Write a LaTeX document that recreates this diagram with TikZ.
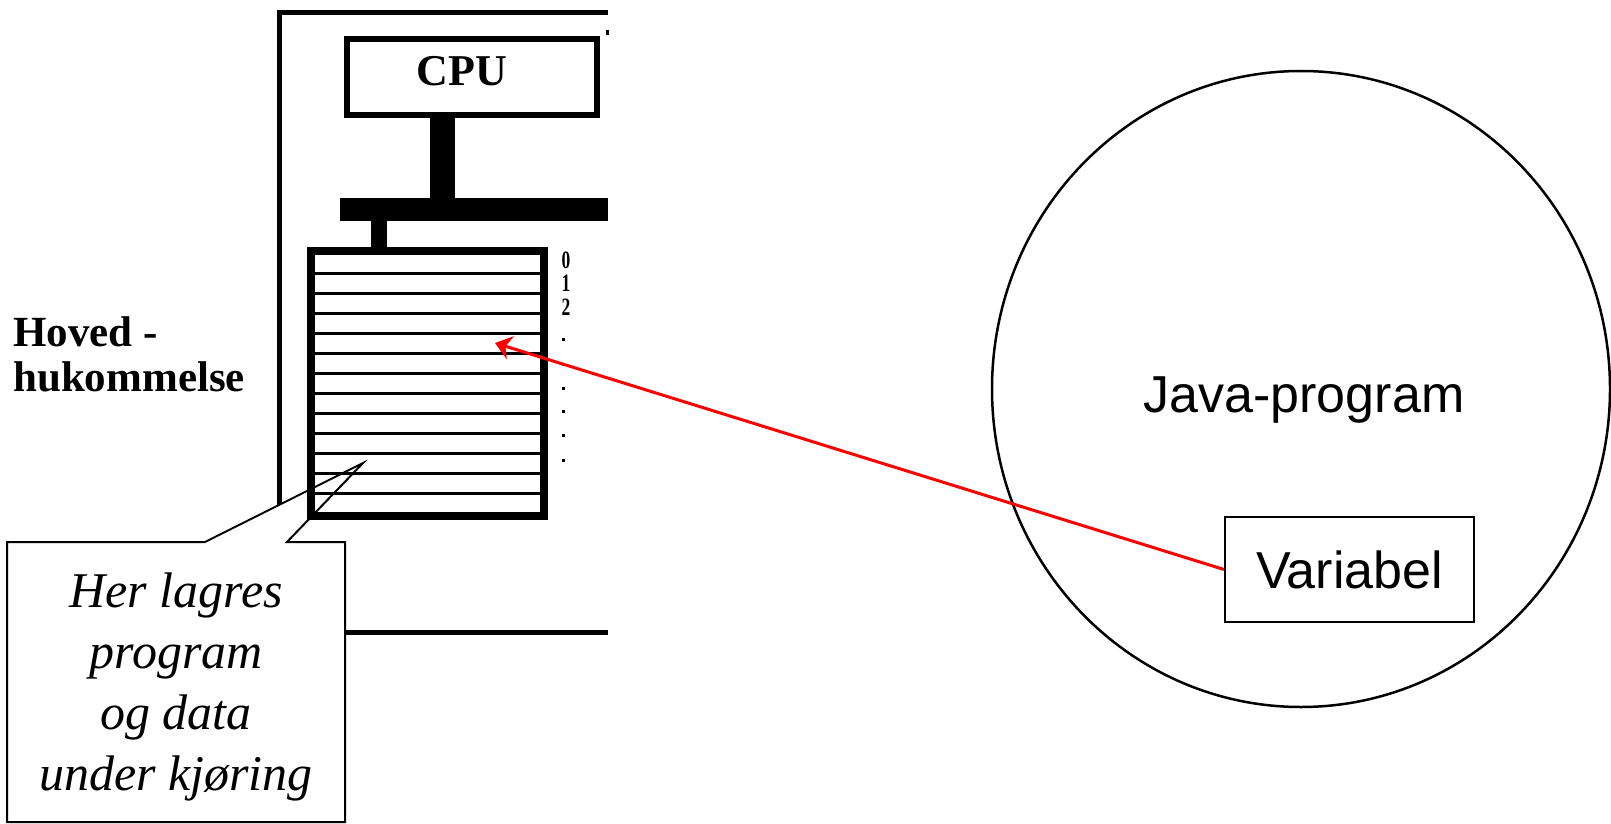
\documentclass[tikz,border=0pt]{standalone}
\usepackage{fontspec}
\setmainfont{Liberation Serif}
\setsansfont{Liberation Sans}
\usetikzlibrary{shapes.geometric,arrows.meta,positioning}

\begin{document}
\begin{tikzpicture}[x=1pt,y=-1pt]
			\tikzstyle{Box}		= [rectangle, draw, inner sep=0pt]
			\tikzstyle{CPUBox}	= [Box, line width=6pt, minimum width=250pt, minimum height=76pt]
			\tikzstyle{Memory}	= [Box, line width=8pt, minimum width=233pt, minimum height=265pt]
			\tikzstyle{Bus}		= [rectangle, fill=black, inner sep=0pt, outer sep=0pt, minimum width=268pt, minimum height=23pt]
			\tikzstyle{Stem}	= [line width=25pt]
			\tikzstyle{Link}	= [line width=16pt]
			\tikzstyle{Row}		= [line width=3pt]
			\tikzstyle{Frame}	= [line width=5pt]
			\tikzstyle{Note}	= [line width=2pt]
			\tikzstyle{Pointer}	= [-{Stealth[length=16pt, width=24pt, inset=5pt]}, red, line width=3pt]
			\tikzstyle{Label}	= [font=\fontsize{52}{60}\selectfont\sffamily]

			\useasboundingbox (0,0) rectangle (1611,824);

			\draw [Frame] (608,12.5) -| (279.5,632) -- (608,632);
			\fill (606,30) rectangle (609,35);

			\coordinate (tip) at (363,463);
			\fill [white] (7,542) -- (205,542) -- (tip) -- (287,542) -- (345,542) -- (345,822) -- (7,822) -- cycle;

			\node (cpu) at (472,77) [CPUBox] {};
			\node (cputext) at (462,86) [anchor=base, font=\fontsize{44}{50}\selectfont\bfseries] {CPU};
			\node (bus) at (474,209.5) [Bus] {};
			\node (mem) at (427.5,383.5) [Memory] {};

			\draw [Stem] (cpu.south -| 442.5,0) to (bus.north -| 442.5,0);
			\draw [Link] (bus.south -| 378.5,0) to (mem.north -| 378.5,0);

			\foreach \y in {273,293,...,493}
				\draw [Row] (311,\y) -- (544,\y);

			\foreach \d/\y in {0/260,1/283.5,2/307}
				\node (addr\d) at (566,\y) [inner sep=0pt, font=\fontsize{25}{25}\selectfont\bfseries] {\scalebox{0.7}[1]{\d}};
			\foreach \y in {338,363,387,410,434,459}
				\fill (562,\y) rectangle +(3,3);

			\draw [Note] (7,542) -- (205,542) -- (tip) -- (287,542) -- (345,542) -- (345,822) -- (7,822) -- cycle;
			\node (notetext) at (176,687) [align=center, font=\fontsize{50}{61}\selectfont\itshape] {Her lagres\\program\\og data\\under kjøring};

			\node (hoved) at (13,316.5) [anchor=north west, inner sep=0pt, align=left, font=\fontsize{43}{45}\selectfont\bfseries] {Hoved -\\hukommelse};

			\node (prog) at (1301,389) [ellipse, draw, line width=2.5pt, minimum width=618pt, minimum height=636pt, inner sep=0pt] {};
			\node (progtext) at (1304,412) [anchor=base, Label] {Java-program};
			\node (var) at (1349.5,569.5) [Box, line width=2pt, minimum width=249pt, minimum height=105pt, Label] {Variabel};

			\coordinate (cell) at (495,343);
			\draw [Pointer] (var.west) to (cell);
		\end{tikzpicture}
\end{document}
